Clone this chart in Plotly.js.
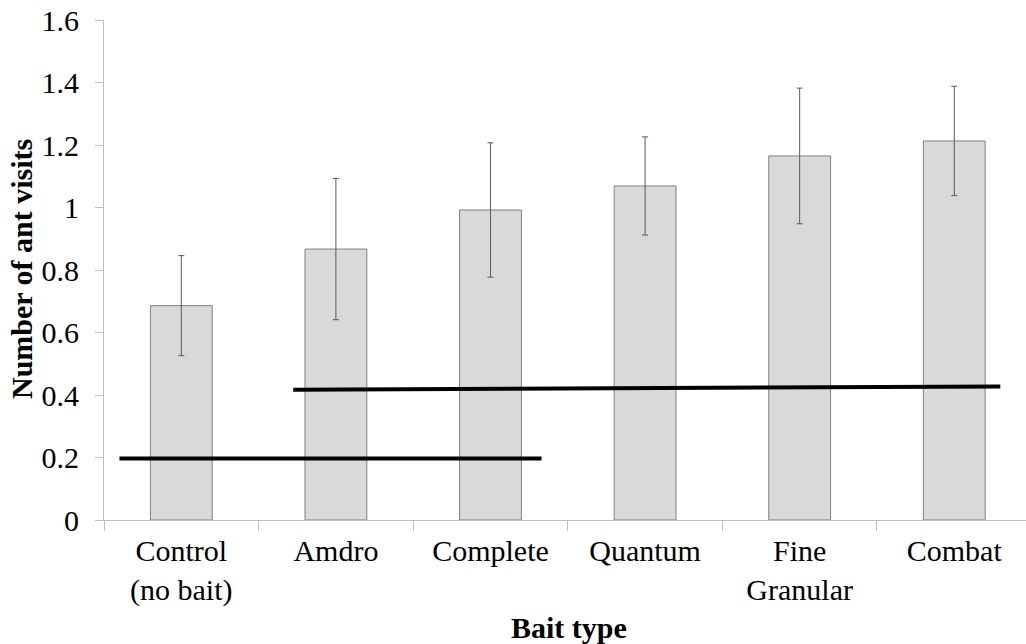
<!DOCTYPE html>
<html>
<head>
<meta charset="utf-8">
<script src="https://cdn.plot.ly/plotly-3.0.1.min.js"></script>
<style>html,body{margin:0;padding:0;background:#fff;}#chart{width:1026px;height:644px;}</style>
</head>
<body>
<div id="chart"></div>
<script>
var categories = ["Control<br>(no bait)", "Amdro", "Complete", "Quantum", "Fine<br>Granular", "Combat"];
var meanVisits = [0.686, 0.867, 0.992, 1.069, 1.165, 1.213];
var errorVisits = [0.160, 0.226, 0.215, 0.157, 0.217, 0.175];
var yTickVals = [0, 0.2, 0.4, 0.6, 0.8, 1, 1.2, 1.4, 1.6];
var yTickText = ["0", "0.2", "0.4", "0.6", "0.8", "1", "1.2", "1.4", "1.6"];
// significance group lines (x in category index units)
var groupAX = [-0.40, 2.33];
var groupAY = [0.197, 0.197];
var groupBX = [0.724, 5.298];
var groupBY = [0.417, 0.427];

var serif = "Liberation Serif";
var xRange = [-0.5, 5.464];

var traces = [
  {
    type: "bar",
    x: categories,
    y: meanVisits,
    width: 0.4,
    marker: {color: "#d9d9d9", line: {color: "#808080", width: 1}},
    error_y: {type: "data", array: errorVisits, visible: true, color: "#5a5a5a", thickness: 1, width: 3},
    hoverinfo: "none"
  },
  {
    type: "scatter", mode: "lines", x: groupAX, y: groupAY, xaxis: "x2",
    line: {color: "#000000", width: 4}, hoverinfo: "none"
  },
  {
    type: "scatter", mode: "lines", x: groupBX, y: groupBY, xaxis: "x2",
    line: {color: "#000000", width: 4}, hoverinfo: "none"
  }
];

var layout = {
  width: 1026, height: 644,
  margin: {l: 104, r: 0, t: 20, b: 124, pad: 0},
  paper_bgcolor: "#ffffff", plot_bgcolor: "#ffffff",
  showlegend: false,
  font: {family: serif, color: "#000000", size: 30},
  xaxis: {
    type: "category",
    range: xRange,
    showgrid: false, zeroline: false,
    showline: true, linecolor: "#c0c0c0", linewidth: 1,
    ticks: "outside", tickson: "boundaries", ticklen: 10, tickcolor: "#c0c0c0", tickwidth: 1,
    ticklabelstandoff: 4,
    tickfont: {family: serif, size: 30, color: "#000000"},
    fixedrange: true
  },
  xaxis2: {
    overlaying: "x", range: xRange, visible: false, fixedrange: true
  },
  yaxis: {
    range: [0, 1.6],
    tickvals: yTickVals, ticktext: yTickText,
    showgrid: false, zeroline: false,
    showline: true, linecolor: "#c0c0c0", linewidth: 1,
    ticks: "outside", ticklen: 8, tickcolor: "#c0c0c0", tickwidth: 1,
    ticklabelstandoff: 10,
    tickfont: {family: serif, size: 30, color: "#000000"},
    fixedrange: true
  },
  annotations: [
    {
      text: "<b>Bait type</b>", xref: "paper", yref: "paper",
      x: (569 - 104) / 922, y: -(627 - 520) / 500, xanchor: "center", yanchor: "middle",
      showarrow: false, font: {family: serif, size: 30, color: "#000000"}
    },
    {
      text: "<b>Number of ant visits</b>", xref: "paper", yref: "paper",
      x: -(104 - 21) / 922, y: (520 - 269) / 500, xanchor: "center", yanchor: "middle",
      textangle: -90, showarrow: false, font: {family: serif, size: 30, color: "#000000"}
    }
  ]
};

Plotly.newPlot("chart", traces, layout, {displayModeBar: false, staticPlot: true});
</script>
</body>
</html>
